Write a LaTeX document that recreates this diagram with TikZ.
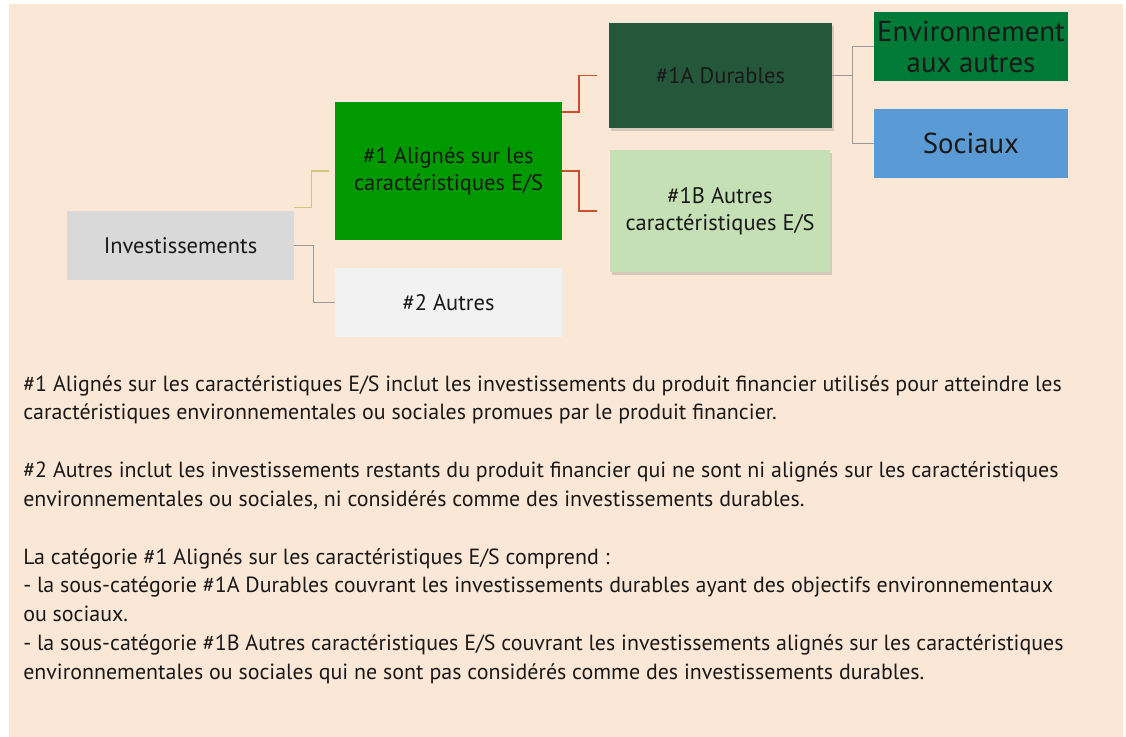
\documentclass[tikz,border=0pt]{standalone}
\usepackage{fontspec}
\setmainfont{PT Sans}
\usepackage{xcolor}
\usetikzlibrary{shadows}

\definecolor{peach}{HTML}{FAE7D6}
\definecolor{invgrey}{HTML}{D9D9D9}
\definecolor{esgreen}{HTML}{009900}
\definecolor{autgrey}{HTML}{F2F2F2}
\definecolor{durgreen}{HTML}{25583A}
\definecolor{autlight}{HTML}{C5E0B4}
\definecolor{envgreen}{HTML}{007A37}
\definecolor{socblue}{HTML}{5B9BD5}
\definecolor{linkyel}{HTML}{D2C67E}
\definecolor{linkred}{HTML}{C8502D}
\definecolor{linkgrey}{HTML}{999999}

\begin{document}
\begin{tikzpicture}[x=0.025cm, y=-0.025cm,
    box/.style={rectangle, inner sep=2pt, align=center, text=black!90,
      font=\fontsize{16}{19}\selectfont},
    shade/.style={drop shadow={shadow xshift=1.2pt, shadow yshift=-2pt,
      opacity=0.2, fill=black!70}},
    big/.style={font=\fontsize{20.5}{22}\selectfont}]
      \useasboundingbox (0,0) rectangle (1126,737);
      \fill[peach] (9,4) rectangle (1123,737);

      \node[box, fill=invgrey,  minimum width=5.675cm, minimum height=1.725cm] (inv) at (180.5,245.5) {Investissements};
      \node[box, fill=esgreen,  minimum width=5.675cm, minimum height=3.45cm]  (al)  at (448.5,171)   {\#1 Alignés sur les\\caractéristiques E/S};
      \node[box, fill=autgrey,  minimum width=5.675cm, minimum height=1.725cm] (aut) at (448.5,302.5) {\#2 Autres};
      \node[box, shade, fill=durgreen, minimum width=5.575cm, minimum height=2.625cm] (dur) at (720.5,75.5) {\#1A Durables};
      \node[box, shade, fill=autlight, minimum width=5.5cm,   minimum height=3.05cm]  (oth) at (720,211)    {\#1B Autres\\caractéristiques E/S};
      \node[box, big, fill=envgreen, minimum width=4.85cm, minimum height=1.725cm] (env) at (971,46.5)  {Environnement\\aux autres};
      \node[box, big, fill=socblue,  minimum width=4.85cm, minimum height=1.725cm] (soc) at (971,143.5) {Sociaux};

      \draw[linkyel, line width=1pt]  ([yshift=0.075cm]inv.north east) -- ++(17,0) |- ([xshift=-0.15cm]al.west);
      \draw[linkgrey, line width=1pt] (inv.east) -- ++(19,0) |- (aut.west);

      \draw[linkred, line width=1.3pt] ([yshift=-0.25cm]al.north east) -- ++(17,0) |- ([xshift=-0.3cm]dur.west);
      \draw[linkred, line width=1.3pt] (al.east) -- ++(17,0) |- ([xshift=-0.325cm]oth.west);

      \draw[linkgrey, line width=1pt] (dur.east) -- ++(20,0) |- (env.west);
      \draw[linkgrey, line width=1pt] (dur.east) -- ++(20,0) |- (soc.west);

      \node[anchor=north west, inner sep=0, align=left, text=black!90,
            font=\fontsize{15.6}{20.5}\selectfont] (txt) at (23,375) {%
        \#1 Alignés sur les caractéristiques E/S inclut les investissements du produit financier utilisés pour atteindre les\\
        caractéristiques environnementales ou sociales promues par le produit financier.\\[20.5pt]
        \#2 Autres inclut les investissements restants du produit financier qui ne sont ni alignés sur les caractéristiques\\
        environnementales ou sociales, ni considérés comme des investissements durables.\\[20.5pt]
        La catégorie \#1 Alignés sur les caractéristiques E/S comprend :\\
        - la sous-catégorie \#1A Durables couvrant les investissements durables ayant des objectifs environnementaux\\
        ou sociaux.\\
        - la sous-catégorie \#1B Autres caractéristiques E/S couvrant les investissements alignés sur les caractéristiques\\
        environnementales ou sociales qui ne sont pas considérés comme des investissements durables.};
\end{tikzpicture}
\end{document}
